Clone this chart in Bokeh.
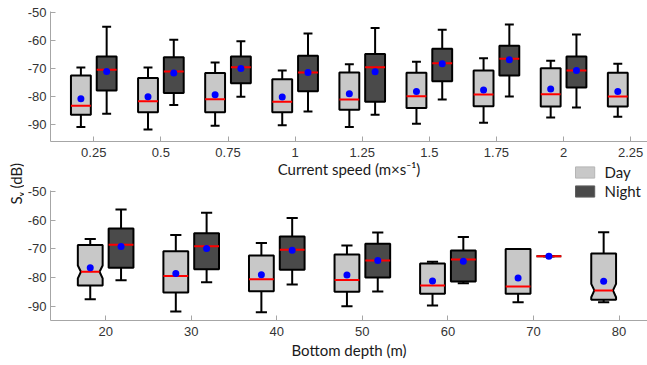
from bokeh.plotting import figure
from bokeh.models import Range1d, FixedTicker, Label, Legend, LegendItem
from bokeh.layouts import column, row
from bokeh.embed import file_html
from bokeh.resources import INLINE

# ---------------- data: current speed panel ----------------
speed_ticks = [0.25, 0.5, 0.75, 1.0, 1.25, 1.5, 1.75, 2.0, 2.25]
speed_tick_labels = ["0.25", "0.5", "0.75", "1", "1.25", "1.5", "1.75", "2", "2.25"]

speed_day = [0.25, 0.5, 0.75, 1.0, 1.25, 1.5, 1.75, 2.0, 2.25]
speed_day_whisker_hi = [-69.6, -69.6, -67.8, -70.7, -68.4, -67.5, -66.3, -67.2, -68.3]
speed_day_q3 = [-72.5, -73.4, -71.6, -73.8, -71.4, -71.5, -70.7, -69.9, -71.5]
speed_day_median = [-83.3, -81.7, -81.0, -81.9, -81.1, -79.9, -79.3, -79.2, -80.0]
speed_day_q1 = [-86.5, -85.6, -85.6, -85.6, -84.7, -84.1, -83.5, -83.6, -83.6]
speed_day_whisker_lo = [-90.9, -91.8, -90.5, -90.3, -90.9, -89.7, -89.4, -87.5, -87.2]
speed_day_mean = [-80.8, -80.1, -79.4, -80.2, -79.0, -78.2, -77.7, -77.3, -78.2]

speed_night = [0.25, 0.5, 0.75, 1.0, 1.25, 1.5, 1.75, 2.0]
speed_night_whisker_hi = [-55.0, -59.7, -60.2, -57.4, -55.5, -56.1, -54.2, -57.8]
speed_night_q3 = [-65.7, -65.9, -65.7, -65.4, -64.8, -62.9, -61.8, -65.7]
speed_night_median = [-70.4, -71.0, -69.5, -71.4, -69.5, -68.1, -66.5, -70.7]
speed_night_q1 = [-77.8, -78.7, -75.2, -78.1, -81.9, -74.5, -72.5, -76.8]
speed_night_whisker_lo = [-86.2, -83.0, -80.1, -85.4, -86.5, -81.1, -80.0, -83.9]
speed_night_mean = [-71.0, -71.6, -70.0, -71.4, -71.1, -68.3, -66.8, -70.7]

# ---------------- data: bottom depth panel ----------------
depth_ticks = [20, 30, 40, 50, 60, 70, 80]
depth_tick_labels = ["20", "30", "40", "50", "60", "70", "80"]

depth_day = [20, 30, 40, 50, 60, 70, 80]
depth_day_whisker_hi = [-66.6, -65.2, -68.0, -68.8, -74.5, -70.1, -64.2]
depth_day_q3 = [-68.7, -70.8, -72.3, -72.0, -75.1, -70.1, -71.6]
depth_day_median = [-78.0, -79.5, -80.6, -80.9, -82.8, -83.1, -84.5]
depth_day_q1 = [-82.8, -85.2, -84.8, -85.0, -85.7, -85.7, -87.8]
depth_day_whisker_lo = [-87.6, -91.9, -92.1, -90.0, -89.8, -88.6, -88.6]
depth_day_mean = [-76.6, -78.6, -79.0, -79.1, -81.2, -80.2, -81.3]
depth_day_notch_hi = [-75.8, -79.5, -80.6, -80.9, -82.8, -83.1, -82.2]
depth_day_notch_lo = [-80.3, -79.5, -80.6, -80.9, -82.8, -83.1, -86.9]

depth_night = [20, 30, 40, 50, 60, 70]
depth_night_whisker_hi = [-56.3, -57.4, -59.2, -64.3, -65.9, -72.6]
depth_night_q3 = [-62.9, -64.6, -65.7, -68.2, -70.6, -72.6]
depth_night_median = [-68.6, -69.1, -70.3, -74.1, -73.7, -72.6]
depth_night_q1 = [-76.6, -77.1, -77.3, -80.0, -81.4, -72.6]
depth_night_whisker_lo = [-81.0, -81.7, -82.4, -84.9, -82.0, -72.6]
depth_night_mean = [-69.2, -69.9, -70.5, -74.1, -74.3, -72.6]

y_ticks = [-90, -80, -70, -60, -50]
y_tick_labels = ["-90", "-80", "-70", "-60", "-50"]

legend_labels = ["Day", "Night"]
y_title = "Sᵥ (dB)"
x_title_top = "Current speed (m×s⁻¹)"
x_title_bottom = "Bottom depth (m)"

# ---------------- styles ----------------
DAY_FILL = "#c8c8c8"
NIGHT_FILL = "#4a4a4a"
AXIS_COLOR = "#a6a6a6"
TICK_TEXT = "#333333"
TEXT_COLOR = "#1a1a1a"
LABEL_FONT = "Lato"
TICK_FONT = "Liberation Sans"
STRIP_W = 24          # left strip holding the y title
COL_W = 623           # width of the panel column
NAN = float("nan")


def make_fig(xr, yr, height, top, bottom):
    p = figure(width=COL_W, height=height, x_range=Range1d(*xr), y_range=Range1d(*yr),
               output_backend="svg", toolbar_location=None,
               min_border_left=20, min_border_right=0,
               min_border_top=top, min_border_bottom=bottom)
    p.outline_line_color = None
    p.grid.visible = False
    return p


def make_strip(w, h):
    s = figure(width=w, height=h, x_range=Range1d(0, w), y_range=Range1d(0, h),
               x_axis_type=None, y_axis_type=None, output_backend="svg",
               toolbar_location=None, min_border=0)
    s.outline_line_color = None
    s.grid.visible = False
    return s


def style_axes(p, xticks, xlabels):
    p.xaxis.ticker = FixedTicker(ticks=xticks)
    p.xaxis.major_label_overrides = {t: l for t, l in zip(xticks, xlabels)}
    p.yaxis.ticker = FixedTicker(ticks=y_ticks)
    p.yaxis.major_label_overrides = {t: l for t, l in zip(y_ticks, y_tick_labels)}
    for ax in p.xaxis + p.yaxis:
        ax.axis_line_color = AXIS_COLOR
        ax.axis_line_width = 1
        ax.major_tick_line_color = AXIS_COLOR
        ax.major_tick_in = 5
        ax.major_tick_out = 0
        ax.minor_tick_line_color = None
        ax.major_label_text_font = TICK_FONT
        ax.major_label_text_font_size = "13px"
        ax.major_label_text_color = TICK_TEXT
    p.xaxis.major_label_standoff = 6
    p.yaxis.major_label_standoff = 4
    p.xaxis.axis_label_text_font = LABEL_FONT
    p.xaxis.axis_label_text_font_size = "15px"
    p.xaxis.axis_label_text_font_style = "normal"
    p.xaxis.axis_label_text_color = TEXT_COLOR


def draw_boxes(p, xc, wlo, q1, med, q3, whi, mean, w, fill, nlo=None, nhi=None):
    cap = 0.45 * w
    inset = 0.125 * w
    black = dict(line_color="black", line_width=2)
    p.segment(x0=xc, y0=q3, x1=xc, y1=whi, **black)
    p.segment(x0=xc, y0=q1, x1=xc, y1=wlo, **black)
    p.segment(x0=[x - cap / 2 for x in xc], y0=whi, x1=[x + cap / 2 for x in xc], y1=whi, **black)
    p.segment(x0=[x - cap / 2 for x in xc], y0=wlo, x1=[x + cap / 2 for x in xc], y1=wlo, **black)
    xs, ys, m0, m1 = [], [], [], []
    for i, x in enumerate(xc):
        l, r = x - w / 2, x + w / 2
        if nlo is not None and nhi[i] > nlo[i]:
            xs.append([l, r, r, r - inset, r, r, l, l, l + inset, l])
            ys.append([q1[i], q1[i], nlo[i], med[i], nhi[i], q3[i], q3[i], nhi[i], med[i], nlo[i]])
            m0.append(l + inset)
            m1.append(r - inset)
        else:
            xs.append([l, r, r, l])
            ys.append([q1[i], q1[i], q3[i], q3[i]])
            m0.append(l)
            m1.append(r)
    p.patches(xs=xs, ys=ys, fill_color=fill, line_color="black", line_width=2)
    p.segment(x0=m0, y0=med, x1=m1, y1=med, line_color="#ff0000", line_width=2)
    p.scatter(x=xc, y=mean, size=7, fill_color="#0000ff", line_color=None)


# vertical layout (page pixels): p1 0-181, legend strip 157-202, p2 183-362
H1, HM, H2 = 181, 45, 179
MID_TOP, P2_TOP = 157, 183

# ---------------- top panel ----------------
p1 = make_fig((0.0888, 0.0888 + 603 / 271.15), (-96.1, -49.55), H1, 11, 40)
style_axes(p1, speed_ticks, speed_tick_labels)
p1.xaxis.axis_label = x_title_top
p1.xaxis.axis_label_standoff = 0
SP_OFF, SP_W = 0.048, 0.074
draw_boxes(p1, [s - SP_OFF for s in speed_day], speed_day_whisker_lo, speed_day_q1, speed_day_median,
           speed_day_q3, speed_day_whisker_hi, speed_day_mean, SP_W, DAY_FILL)
draw_boxes(p1, [s + SP_OFF for s in speed_night], speed_night_whisker_lo, speed_night_q1, speed_night_median,
           speed_night_q3, speed_night_whisker_hi, speed_night_mean, SP_W, NIGHT_FILL)

# ---------------- legend strip (overlaps p1's bottom border) ----------------
mid = make_strip(COL_W, HM)
mid.background_fill_alpha = 0
mid.border_fill_alpha = 0
mid.styles = {"margin-top": f"-{H1 - MID_TOP}px"}
day_proxy = mid.quad(left=[NAN], right=[NAN], top=[NAN], bottom=[NAN],
                     fill_color=DAY_FILL, line_color="#b5b5b5", line_width=1)
night_proxy = mid.quad(left=[NAN], right=[NAN], top=[NAN], bottom=[NAN],
                       fill_color=NIGHT_FILL, line_color="#5e5e5e", line_width=1)
leg = Legend(items=[LegendItem(label=legend_labels[0], renderers=[day_proxy]),
                    LegendItem(label=legend_labels[1], renderers=[night_proxy])],
             location="top_right", padding=0, margin=6, spacing=1,
             glyph_width=24, glyph_height=14, label_height=14, label_standoff=8,
             label_text_font=LABEL_FONT, label_text_font_size="15px", label_text_color=TEXT_COLOR,
             border_line_color=None, background_fill_alpha=0)
mid.add_layout(leg)

# ---------------- bottom panel (overlaps the legend strip) ----------------
p2 = make_fig((13.556, 13.556 + 603 / 8.643), (-95.0, -49.65), H2, 7, 42)
style_axes(p2, depth_ticks, depth_tick_labels)
p2.xaxis.axis_label = x_title_bottom
p2.xaxis.axis_label_standoff = 2
p2.background_fill_alpha = 0
p2.border_fill_alpha = 0
p2.styles = {"margin-top": f"-{MID_TOP + HM - P2_TOP}px"}
DP_OFF, DP_W = 1.8, 2.9
draw_boxes(p2, [d - DP_OFF for d in depth_day], depth_day_whisker_lo, depth_day_q1, depth_day_median,
           depth_day_q3, depth_day_whisker_hi, depth_day_mean, DP_W, DAY_FILL,
           depth_day_notch_lo, depth_day_notch_hi)
draw_boxes(p2, [d + DP_OFF for d in depth_night], depth_night_whisker_lo, depth_night_q1, depth_night_median,
           depth_night_q3, depth_night_whisker_hi, depth_night_mean, DP_W, NIGHT_FILL)

# ---------------- left strip: y title ----------------
TOTAL_H = P2_TOP + H2
Y_TITLE_BOTTOM = 204   # strip position of the title's start (measured against the render)
left = make_strip(STRIP_W, TOTAL_H)
left.add_layout(Label(x=15, y=TOTAL_H - Y_TITLE_BOTTOM, text=y_title, angle=90, angle_units="deg",
                      text_align="left", text_baseline="middle",
                      text_font=LABEL_FONT, text_font_size="15px", text_color=TEXT_COLOR))

layout = row(left, column(p1, mid, p2, spacing=0), spacing=0)
open("out.html", "w").write(file_html(layout, INLINE))
